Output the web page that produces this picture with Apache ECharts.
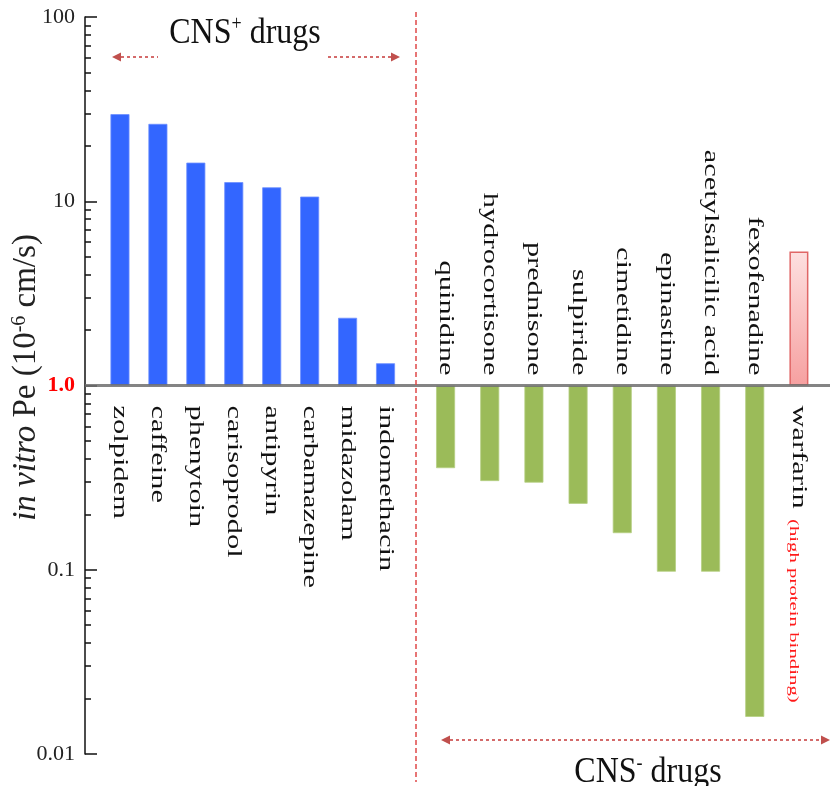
<!DOCTYPE html>
<html>
<head>
<meta charset="utf-8">
<script src="https://cdn.jsdelivr.net/npm/echarts@6/dist/echarts.min.js"></script>
<style>html,body{margin:0;padding:0;background:#fff;}#chart{width:837px;height:786px;}</style>
</head>
<body>
<div id="chart"></div>
<script>
// ---- data ----
const cnsPosDrugs = ['zolpidem','caffeine','phenytoin','carisoprodol','antipyrin','carbamazepine','midazolam','indomethacin'];
const cnsPosPe = [29.7, 26.3, 16.2, 12.7, 11.9, 10.6, 2.33, 1.32];
const cnsNegDrugs = ['quinidine','hydrocortisone','prednisone','sulpiride','cimetidine','epinastine','acetylsalicilic acid','fexofenadine','warfarin'];
const cnsNegPe = [0.356, 0.303, 0.297, 0.228, 0.158, 0.0976, 0.0976, 0.0159, 5.33];
const yTickLabels = [0.01, 0.1, 1, 10, 100];
const yMinorTicks = [];
[0.01, 0.1, 1, 10].forEach(function (d) { for (let k = 2; k <= 9; k++) yMinorTicks.push(+(d * k).toPrecision(3)); });
const baselineValue = 1;

const SERIF = '"Liberation Serif", "Times New Roman", serif';
const chart = echarts.init(document.getElementById('chart'), null, {renderer: 'canvas'});

function labelRenderer(names) {
  return function (params, api) {
    const idx = api.value(0);
    const val = api.value(1);
    const p = api.coord([idx, baselineValue]);
    const below = val > baselineValue;
    return {
      type: 'text',
      x: p[0],
      y: below ? p[1] + 20 : p[1] - 10,
      rotation: -Math.PI / 2,
      scaleX: 1.45,
      style: {
        text: names[idx],
        font: '21px ' + SERIF,
        fill: '#111',
        align: below ? 'left' : 'right',
        verticalAlign: 'middle'
      }
    };
  };
}

const gridTop = 17, gridBottom = 32;
const logAxisBase = {type: 'log', logBase: 10, min: 0.01, max: 100};

const option = {
  backgroundColor: '#ffffff',
  animation: false,
  grid: [
    {left: 85, right: 7, top: gridTop, bottom: gridBottom, containLabel: false, outerBoundsMode: 'none'},
    {left: 101, right: 432.5, top: gridTop, bottom: gridBottom, containLabel: false, outerBoundsMode: 'none'},
    {left: 423.5, right: 16, top: gridTop, bottom: gridBottom, containLabel: false, outerBoundsMode: 'none'}
  ],
  xAxis: [
    {gridIndex: 0, type: 'value', min: 0, max: 1, show: false},
    {gridIndex: 1, type: 'category', data: cnsPosDrugs, show: false},
    {gridIndex: 2, type: 'category', data: cnsNegDrugs, show: false}
  ],
  yAxis: [
    Object.assign({}, logAxisBase, {
      gridIndex: 0, position: 'left',
      axisLine: {show: true, lineStyle: {color: '#111', width: 1.5}},
      axisTick: {show: true, inside: true, length: 12, lineStyle: {color: '#111', width: 1.5}, customValues: yTickLabels},
      splitLine: {show: false},
      axisLabel: {
        show: true, margin: 10, customValues: yTickLabels,
        formatter: function (v) {
          if (Math.abs(v - 1) < 1e-9) return '{r|1.0}';
          if (v >= 1) return '{n|' + Math.round(v) + '}';
          return '{n|' + (+v.toPrecision(1)) + '}';
        },
        rich: {
          r: {color: '#ff0000', fontWeight: 'bold', fontFamily: SERIF, fontSize: 22},
          n: {color: '#222', fontFamily: SERIF, fontSize: 22}
        }
      },
      name: '{it|in vitro} {n|Pe (10}{sup|-6}{n| cm/s)}',
      nameLocation: 'middle',
      nameRotate: 90,
      nameGap: 42,
      nameMoveOverlap: false,
      nameTextStyle: {
        fontFamily: SERIF, fontSize: 33, color: '#222',
        padding: [0, 0, 0, 16],
        rich: {
          it: {fontStyle: 'italic', fontFamily: SERIF, fontSize: 33, color: '#222'},
          n: {fontFamily: SERIF, fontSize: 33, color: '#222'},
          sup: {fontFamily: SERIF, fontSize: 20, color: '#222', verticalAlign: 'top'}
        }
      }
    }),
    Object.assign({}, logAxisBase, {
      gridIndex: 0, position: 'left', offset: 0,
      axisLine: {show: false},
      axisTick: {show: true, inside: true, length: 6, lineStyle: {color: '#111', width: 1.5}, customValues: yMinorTicks},
      axisLabel: {show: false},
      splitLine: {show: false}
    }),
    Object.assign({}, logAxisBase, {gridIndex: 1, show: false, splitLine: {show: false}}),
    Object.assign({}, logAxisBase, {gridIndex: 2, show: false, splitLine: {show: false}})
  ],
  graphic: [
    // divider
    {type: 'line', shape: {x1: 416, y1: 12, x2: 416, y2: 782}, style: {stroke: '#e04848', lineWidth: 1.5, lineDash: [5, 3]}, z: 50},
    // top arrows
    {type: 'line', shape: {x1: 121, y1: 57, x2: 158, y2: 57}, style: {stroke: '#d46a6a', lineWidth: 2, lineDash: [3, 3]}, z: 50},
    {type: 'polygon', shape: {points: [[112, 57], [121, 52.5], [121, 61.5]]}, style: {fill: '#c0504d'}, z: 50},
    {type: 'line', shape: {x1: 328, y1: 57, x2: 391, y2: 57}, style: {stroke: '#d46a6a', lineWidth: 2, lineDash: [3, 3]}, z: 50},
    {type: 'polygon', shape: {points: [[400, 57], [391, 52.5], [391, 61.5]]}, style: {fill: '#c0504d'}, z: 50},
    // bottom arrow
    {type: 'line', shape: {x1: 450, y1: 740, x2: 821, y2: 740}, style: {stroke: '#d46a6a', lineWidth: 2, lineDash: [3, 3]}, z: 50},
    {type: 'polygon', shape: {points: [[441, 740], [450, 735.5], [450, 744.5]]}, style: {fill: '#c0504d'}, z: 50},
    {type: 'polygon', shape: {points: [[830, 740], [821, 735.5], [821, 744.5]]}, style: {fill: '#c0504d'}, z: 50},
    // group titles
    {type: 'text', x: 245, y: 33, scaleY: 1.15, z: 50, style: {
      text: 'CNS{sup|+} drugs', font: '32px ' + SERIF, fill: '#111', align: 'center', verticalAlign: 'middle',
      rich: {sup: {fontSize: 18, fontFamily: SERIF, fill: '#111', verticalAlign: 'top'}}
    }},
    {type: 'text', x: 648, y: 772, scaleY: 1.15, z: 50, style: {
      text: 'CNS{sup|-} drugs', font: '32px ' + SERIF, fill: '#111', align: 'center', verticalAlign: 'middle',
      rich: {sup: {fontSize: 18, fontFamily: SERIF, fill: '#111', verticalAlign: 'top'}}
    }},
    // annotation
    {type: 'text', x: 793, y: 519, rotation: -Math.PI / 2, scaleX: 1.6, z: 50, style: {
      text: '(high protein binding)', font: '13px ' + SERIF, fill: '#ff1a1a', align: 'left', verticalAlign: 'middle'
    }}
  ],
  series: [
    {
      type: 'line', xAxisIndex: 0, yAxisIndex: 0, data: [[0.5, baselineValue]],
      showSymbol: false, symbol: 'none', lineStyle: {opacity: 0}, silent: true, z: 10,
      markLine: {
        silent: true, symbol: 'none', label: {show: false},
        lineStyle: {color: '#6f6f6f', width: 3, type: 'solid', opacity: 0.85},
        data: [{yAxis: baselineValue}]
      }
    },
    {
      type: 'bar', xAxisIndex: 1, yAxisIndex: 2, data: cnsPosPe, barWidth: 19,
      itemStyle: {color: '#3366ff', borderColor: '#6d8fff', borderWidth: 0.8}, z: 3
    },
    {
      type: 'bar', xAxisIndex: 2, yAxisIndex: 3, barWidth: 19, z: 3,
      data: cnsNegPe.map(function (v, i) {
        if (v > baselineValue) {
          return {value: v, itemStyle: {
            color: {type: 'linear', x: 0, y: 0, x2: 0, y2: 1, colorStops: [{offset: 0, color: '#fde0e0'}, {offset: 1, color: '#f6a0a0'}]},
            borderColor: '#e06666', borderWidth: 1.5
          }};
        }
        return {value: v, itemStyle: {color: '#9bbb59', borderColor: '#b5cf83', borderWidth: 0.8}};
      })
    },
    {
      type: 'custom', xAxisIndex: 1, yAxisIndex: 2, z: 20, silent: true,
      data: cnsPosPe.map(function (v, i) { return [i, v]; }),
      renderItem: labelRenderer(cnsPosDrugs)
    },
    {
      type: 'custom', xAxisIndex: 2, yAxisIndex: 3, z: 20, silent: true,
      data: cnsNegPe.map(function (v, i) { return [i, v]; }),
      renderItem: labelRenderer(cnsNegDrugs)
    }
  ]
};
chart.setOption(option);
</script>
</body>
</html>
